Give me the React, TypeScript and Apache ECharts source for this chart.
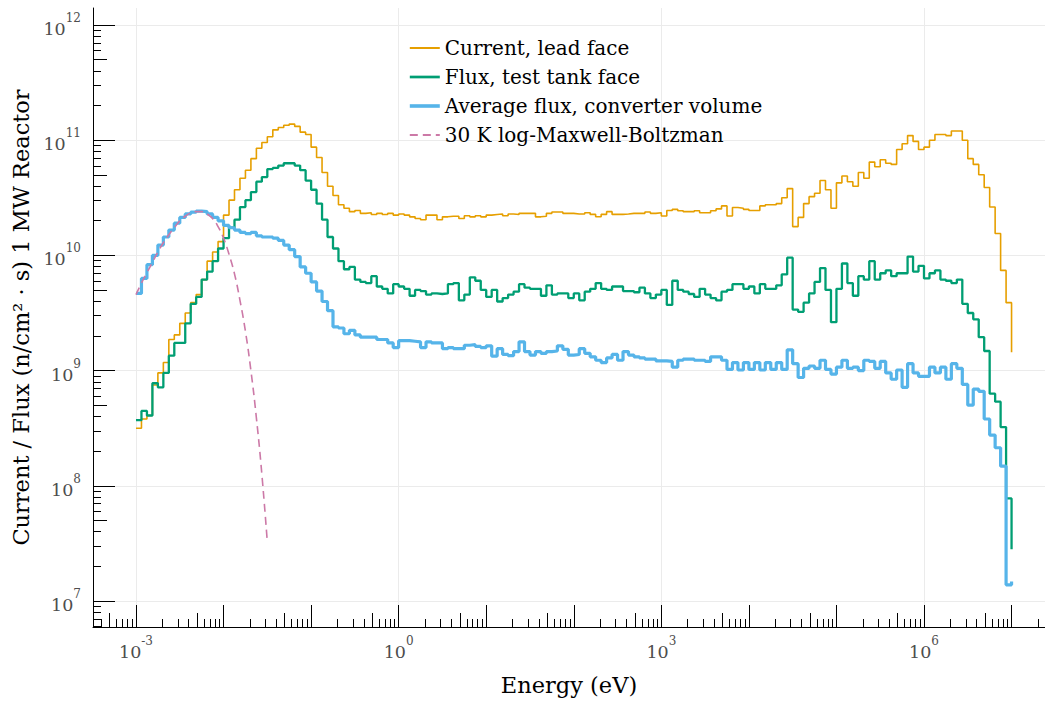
import React, { useEffect, useRef } from "react";
import * as echarts from "echarts";

const FONT = "DejaVu Serif";

// Histogram bins: 16 per decade starting at 1e-3 eV (values are log10 of the read values)
const E_START_EXP = -3;
const BINS_PER_DECADE = 16;

// Axis extents (log10)
const X_MIN = -3.491;
const X_MAX = 7.382;
const Y_MIN = 6.774;
const Y_MAX = 12.148;

const xLabelDecades = [-3, 0, 3, 6];
const xOtherDecades = [-2, -1, 1, 2, 4, 5, 7];
const yDecades = [7, 8, 9, 10, 11, 12];
const midMultiplier = [5];
const minorMultipliers = [2, 3, 4, 6, 7, 8, 9];

const seriesNames = [
  "Current, lead face",
  "Flux, test tank face",
  "Average flux, converter volume",
  "30 K log-Maxwell-Boltzman",
];

// log10(current) at lead face, n/(cm^2 s)
const currentLeadFaceLog = [
  8.5, 8.58, 8.61, 8.875, 8.98, 9.07, 9.27, 9.31, 9.41, 9.5, 9.59, 9.66, 9.79, 9.95, 10.03, 10.12,
  10.35, 10.48, 10.57, 10.67, 10.74, 10.84, 10.93, 10.98, 11.03, 11.09, 11.11, 11.13, 11.14, 11.12, 11.07, 11.05,
  10.94, 10.85, 10.72, 10.6, 10.52, 10.44, 10.41, 10.38, 10.39, 10.365, 10.37, 10.355, 10.365, 10.355, 10.365, 10.35,
  10.36, 10.35, 10.335, 10.32, 10.31, 10.35, 10.35, 10.31, 10.335, 10.34, 10.34, 10.32, 10.345, 10.335, 10.345, 10.335,
  10.35, 10.355, 10.36, 10.345, 10.36, 10.355, 10.365, 10.365, 10.365, 10.335, 10.34, 10.365, 10.377, 10.377, 10.365, 10.365,
  10.36, 10.36, 10.37, 10.356, 10.336, 10.356, 10.38, 10.356, 10.356, 10.36, 10.365, 10.365, 10.365, 10.377, 10.365, 10.37,
  10.342, 10.39, 10.4, 10.388, 10.38, 10.38, 10.388, 10.37, 10.37, 10.388, 10.404, 10.43, 10.342, 10.416, 10.41, 10.4,
  10.39, 10.39, 10.43, 10.44, 10.44, 10.45, 10.5, 10.58, 10.25, 10.33, 10.45, 10.51, 10.54, 10.65, 10.57, 10.41,
  10.63, 10.69, 10.64, 10.6, 10.72, 10.67, 10.81, 10.77, 10.83, 10.8, 10.79, 10.92, 10.97, 11.04, 10.99, 10.92,
  10.94, 11.0, 11.05, 11.05, 11.04, 11.08, 11.08, 11.0, 10.84, 10.79, 10.7, 10.59, 10.42, 10.19, 9.87, 9.59,
  9.16,
];

// log10(flux) at test tank face
const fluxTestTankLog = [
  8.57, 8.65, 8.61, 8.89, 8.855, 8.98, 9.13, 9.24, 9.24, 9.41, 9.58, 9.64, 9.79, 9.86, 9.95, 10.06,
  10.15, 10.24, 10.31, 10.42, 10.48, 10.55, 10.64, 10.68, 10.75, 10.76, 10.78, 10.8, 10.8, 10.78, 10.74, 10.65,
  10.57, 10.45, 10.31, 10.16, 10.06, 9.95, 9.88, 9.9, 9.79, 9.77, 9.76, 9.82, 9.73, 9.71, 9.67, 9.75,
  9.73, 9.71, 9.65, 9.7, 9.69, 9.66, 9.67, 9.665, 9.67, 9.75, 9.76, 9.61, 9.66, 9.81, 9.78, 9.7,
  9.64, 9.7, 9.6, 9.63, 9.66, 9.685, 9.75, 9.72, 9.71, 9.71, 9.65, 9.74, 9.66, 9.67, 9.67, 9.63,
  9.67, 9.61, 9.685, 9.71, 9.76, 9.71, 9.7, 9.73, 9.73, 9.69, 9.69, 9.68, 9.72, 9.67, 9.63, 9.66,
  9.7, 9.57, 9.78, 9.7, 9.685, 9.665, 9.64, 9.71, 9.66, 9.63, 9.61, 9.685, 9.7, 9.75, 9.75, 9.71,
  9.73, 9.67, 9.75, 9.71, 9.71, 9.74, 9.835, 9.98, 9.53, 9.51, 9.59, 9.67, 9.77, 9.89, 9.7, 9.42,
  9.71, 9.93, 9.76, 9.65, 9.82, 9.79, 9.95, 9.79, 9.845, 9.87, 9.82, 9.845, 9.845, 9.99, 9.86, 9.91,
  9.8, 9.845, 9.87, 9.79, 9.78, 9.76, 9.79, 9.58, 9.5, 9.445, 9.29, 9.17, 8.8, 8.73, 8.51, 7.89,
  7.45,
];

// log10(average flux) in converter volume
const avgFluxConverterLog = [
  9.67, 9.8, 9.92, 10.0, 10.09, 10.16, 10.22, 10.28, 10.33, 10.36, 10.375, 10.385, 10.38, 10.36, 10.33, 10.3,
  10.26, 10.24, 10.22, 10.2, 10.19, 10.2, 10.17, 10.16, 10.16, 10.15, 10.13, 10.09, 10.05, 9.99, 9.9, 9.845,
  9.77, 9.69, 9.6, 9.52, 9.38, 9.37, 9.32, 9.35, 9.31, 9.29, 9.29, 9.29, 9.27, 9.27, 9.24, 9.2,
  9.26, 9.26, 9.255, 9.25, 9.2, 9.25, 9.24, 9.24, 9.19, 9.2, 9.19, 9.19, 9.22, 9.225, 9.21, 9.2,
  9.215, 9.125, 9.19, 9.14, 9.13, 9.165, 9.25, 9.165, 9.135, 9.165, 9.15, 9.165, 9.17, 9.215, 9.185, 9.135,
  9.14, 9.19, 9.15, 9.12, 9.09, 9.07, 9.11, 9.14, 9.09, 9.165, 9.135, 9.12, 9.11, 9.1, 9.1, 9.085,
  9.085, 9.08, 9.03, 9.09, 9.1, 9.1, 9.09, 9.09, 9.08, 9.12, 9.12, 9.09, 9.01, 9.07, 9.005, 9.07,
  9.01, 9.07, 9.005, 9.07, 9.01, 9.07, 9.01, 9.18, 9.06, 8.94, 9.02, 9.04, 9.02, 9.09, 9.01, 8.97,
  9.03, 9.09, 9.02, 9.03, 9.0, 9.09, 9.08, 9.02, 9.08, 8.98, 8.925, 9.005, 8.855, 9.06, 8.98, 8.95,
  8.95, 9.03, 8.98, 9.03, 8.925, 9.06, 9.02, 8.88, 8.7, 8.84, 8.82, 8.58, 8.44, 8.33, 8.17, 7.14,
  7.17,
];

// log10 of the 30 K log-Maxwell-Boltzmann curve, read at the first 25 bin edges
const maxwell30KLog = [
  9.66, 9.76, 9.85, 9.94, 10.03, 10.11, 10.18, 10.24, 10.3, 10.34, 10.37, 10.38, 10.38,
  10.36, 10.32, 10.25, 10.15, 10.01, 9.84, 9.61, 9.34, 9.0, 8.59, 8.1, 7.51,
];

const COLORS = ["#E69F00", "#009E73", "#56B4E9", "#CC79A7"];
const WIDTHS = [1.6, 2.3, 3.2, 1.6];

const edgeExp = (i: number) => E_START_EXP + i / BINS_PER_DECADE;
const toPairs = (arr: number[]) => arr.map((v, i) => [edgeExp(i), v]);

function subTicks(lo: number, hi: number, mults: number[]) {
  const out: number[] = [];
  for (let n = Math.floor(lo) - 1; n <= Math.ceil(hi); n++) {
    for (const m of mults) {
      const v = n + Math.log10(m);
      if (v > lo && v < hi) out.push(v);
    }
  }
  return out;
}

const LABEL_COLOR = "#4d4d4d";
const labelRich = {
  b: { fontFamily: FONT, fontSize: 17.5, color: LABEL_COLOR, lineHeight: 26, verticalAlign: "bottom" },
  s: { fontFamily: FONT, fontSize: 12, color: LABEL_COLOR, lineHeight: 10, verticalAlign: "top" },
};
const expFormatter = (v: number) => `{b|10}{s|${Math.round(v)}}`;

function tickAxis(min: number, max: number, position: string, values: number[], length: number) {
  return {
    type: "value",
    min,
    max,
    position,
    axisLine: { show: false, onZero: false },
    axisTick: { show: true, inside: true, length, customValues: values, lineStyle: { color: "#000", width: 1 } },
    axisLabel: { show: false },
    splitLine: { show: false },
  };
}

export default function App() {
  const ref = useRef<HTMLDivElement>(null);

  useEffect(() => {
    if (!ref.current) return;
    const chart = echarts.init(ref.current, undefined, { renderer: "svg" });

    const axisLineStyle = { color: "#000", width: 1 };
    const nameStyle = { fontFamily: FONT, fontSize: 22.5, color: "#000" };

    const option: any = {
      animation: false,
      backgroundColor: "#fff",
      grid: {
        left: 93,
        right: 0,
        top: 8,
        bottom: 75,
        containLabel: false,
        outerBoundsMode: "none",
      },
      legend: {
        orient: "vertical",
        left: 403,
        top: 33,
        itemWidth: 30,
        itemHeight: 14,
        itemGap: 9,
        itemStyle: { opacity: 0, borderWidth: 0 },
        textStyle: { fontFamily: FONT, fontSize: 20, color: "#000" },
        data: seriesNames.map((name, i) => ({
          name,
          lineStyle: { width: i === 3 ? 2 : WIDTHS[i] + 0.4 },
        })),
      },
      xAxis: [
        {
          type: "value",
          min: X_MIN,
          max: X_MAX,
          position: "bottom",
          axisLine: { show: true, onZero: false, lineStyle: axisLineStyle },
          axisTick: { show: true, inside: true, length: 22, customValues: xLabelDecades, lineStyle: axisLineStyle },
          axisLabel: { customValues: xLabelDecades, formatter: expFormatter, rich: labelRich, margin: 8 },
          splitLine: { show: true, lineStyle: { color: "#ebebeb", width: 1 } },
          name: "Energy (eV)",
          nameLocation: "middle",
          nameGap: 46,
          nameTextStyle: nameStyle,
        },
        tickAxis(X_MIN, X_MAX, "bottom", xOtherDecades, 22),
        tickAxis(X_MIN, X_MAX, "bottom", subTicks(X_MIN, X_MAX, midMultiplier), 14),
        tickAxis(X_MIN, X_MAX, "bottom", subTicks(X_MIN, X_MAX, minorMultipliers), 8),
      ],
      yAxis: [
        {
          type: "value",
          min: Y_MIN,
          max: Y_MAX,
          position: "left",
          axisLine: { show: true, onZero: false, lineStyle: axisLineStyle },
          axisTick: { show: true, inside: true, length: 22, customValues: yDecades, lineStyle: axisLineStyle },
          axisLabel: { customValues: yDecades, formatter: expFormatter, rich: labelRich, margin: 12 },
          splitLine: { show: true, lineStyle: { color: "#ebebeb", width: 1 } },
          name: "Current / Flux (n/cm² · s) 1 MW Reactor",
          nameLocation: "middle",
          nameGap: 56,
          nameRotate: 90,
          nameTextStyle: nameStyle,
        },
        tickAxis(Y_MIN, Y_MAX, "left", subTicks(Y_MIN, Y_MAX, midMultiplier), 14),
        tickAxis(Y_MIN, Y_MAX, "left", subTicks(Y_MIN, Y_MAX, minorMultipliers), 8),
      ],
      series: [
        {
          name: seriesNames[0],
          type: "line",
          step: "end",
          symbol: "none",
          data: toPairs(currentLeadFaceLog),
          lineStyle: { color: COLORS[0], width: WIDTHS[0] },
          itemStyle: { color: COLORS[0] },
        },
        {
          name: seriesNames[1],
          type: "line",
          step: "end",
          symbol: "none",
          data: toPairs(fluxTestTankLog),
          lineStyle: { color: COLORS[1], width: WIDTHS[1] },
          itemStyle: { color: COLORS[1] },
        },
        {
          name: seriesNames[2],
          type: "line",
          step: "end",
          symbol: "none",
          data: toPairs(avgFluxConverterLog),
          lineStyle: { color: COLORS[2], width: WIDTHS[2] },
          itemStyle: { color: COLORS[2] },
        },
        {
          name: seriesNames[3],
          type: "line",
          symbol: "none",
          smooth: true,
          data: toPairs(maxwell30KLog),
          lineStyle: { color: COLORS[3], width: WIDTHS[3], type: [8, 5] },
          itemStyle: { color: COLORS[3] },
        },
      ],
    };

    chart.setOption(option);
    return () => chart.dispose();
  }, []);

  return (
    <div
      ref={ref}
      style={{ position: "fixed", left: 0, top: 0, width: 1045, height: 702, background: "#fff" }}
    />
  );
}
